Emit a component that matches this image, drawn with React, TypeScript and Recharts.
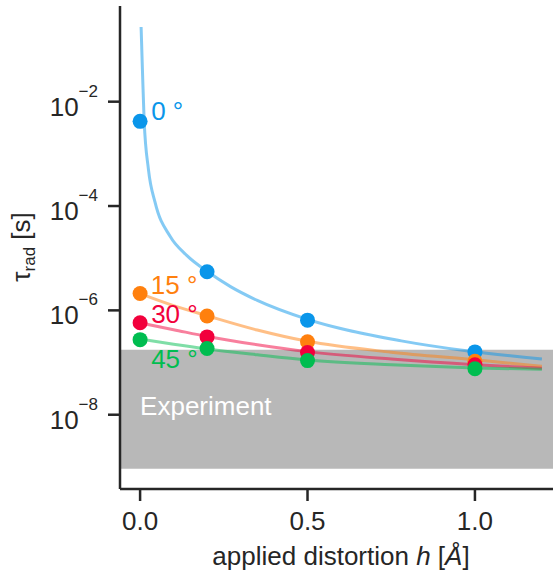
import React from "react";
import {
  ComposedChart,
  Line,
  Scatter,
  XAxis,
  YAxis,
  ReferenceArea,
  ReferenceDot,
} from "recharts";

// measured points
const H_PTS = [0, 0.2, 0.5, 1.0];
const TAU_0 = [4.2e-3, 5.5e-6, 6.5e-7, 1.6e-7];
const TAU_15 = [2.1e-6, 7.8e-7, 2.5e-7, 1.06e-7];
const TAU_30 = [5.8e-7, 3.1e-7, 1.55e-7, 9.1e-8];
const TAU_45 = [2.75e-7, 1.86e-7, 1.09e-7, 7.6e-8];

// fitted curves
const H_FIT_0 = [0.003, 0.007, 0.012, 0.025, 0.045, 0.09, 0.14, 0.2, 0.27, 0.35, 0.5, 0.78, 0.98, 1.2];
const FIT_0 = [0.27, 0.041, 4.5e-3, 5.0e-4, 1.16e-4, 2.6e-5, 1.12e-5, 5.6e-6, 2.85e-6, 1.55e-6, 6.7e-7, 2.6e-7, 1.66e-7, 1.17e-7];
const H_FIT = [0, 0.1, 0.2, 0.35, 0.5, 0.75, 1.0, 1.2];
const FIT_15 = [2.09e-6, 1.23e-6, 7.9e-7, 4.2e-7, 2.55e-7, 1.58e-7, 1.13e-7, 8.5e-8];
const FIT_30 = [5.75e-7, 4.27e-7, 3.16e-7, 2.19e-7, 1.62e-7, 1.17e-7, 9.1e-8, 7.8e-8];
const FIT_45 = [2.82e-7, 2.24e-7, 1.82e-7, 1.41e-7, 1.12e-7, 9.1e-8, 7.9e-8, 7.4e-8];

// experimental window
const EXP_RANGE = [9.2e-10, 1.75e-7];

const ANGLES = ["0", "15", "30", "45"];
const LABEL_H = [0.033, 0.032, 0.033, 0.033];
const LABEL_TAU = [4.5e-3, 2.06e-6, 5.7e-7, 7.85e-8];

const X_TICKS = [0, 0.5, 1.0];
const Y_TICKS = [1e-2, 1e-4, 1e-6, 1e-8];

const COLORS = ["#0a96ea", "#ff800e", "#f2003c", "#00bd50"];
const INK = "#262626";
const FONT = "'Liberation Sans', Arial, sans-serif";

const zip = (xs: number[], ys: number[]) => xs.map((h, i) => ({ h, tau: ys[i] }));
const fits = [zip(H_FIT_0, FIT_0), zip(H_FIT, FIT_15), zip(H_FIT, FIT_30), zip(H_FIT, FIT_45)];
const points = [TAU_0, TAU_15, TAU_30, TAU_45].map((t) => zip(H_PTS, t));

const YTick = (props: any) => {
  const { x, y, payload } = props;
  const exp = Math.round(Math.log10(payload.value));
  return (
    <text x={x} y={y + 14} textAnchor="end" fill={INK} fontSize={26} fontFamily={FONT}>
      <tspan>10</tspan>
      <tspan dy={-19} fontSize={17}>{"\u2212" + Math.abs(exp)}</tspan>
    </text>
  );
};

const YLabel = () => (
  <text transform="rotate(-90)" x={-247} y={30} textAnchor="middle" fill={INK} fontSize={26} fontFamily={FONT}>
    <tspan>τ</tspan>
    <tspan dy={5} fontSize={17}>rad</tspan>
    <tspan dy={-5}> [s]</tspan>
  </text>
);

const XLabel = () => (
  <text x={341} y={565} textAnchor="middle" fill={INK} fontSize={26} fontFamily={FONT}>
    <tspan>applied distortion </tspan>
    <tspan fontStyle="italic">h</tspan>
    <tspan> [</tspan>
    <tspan fontStyle="italic">Å</tspan>
    <tspan>]</tspan>
  </text>
);

export default function App() {
  return (
    <div style={{ position: "absolute", left: 0, top: 0, width: 553, height: 575, overflow: "hidden", background: "#fff" }}>
      <ComposedChart width={570} height={575} margin={{ top: 6, right: 8, bottom: 0, left: 0 }}>
        <XAxis
          dataKey="h"
          type="number"
          domain={[-0.06, 1.26]}
          allowDataOverflow
          ticks={X_TICKS}
          tickFormatter={(v: number) => v.toFixed(1)}
          tick={{ fill: INK, fontSize: 26, fontFamily: FONT }}
          tickSize={12}
          tickMargin={11}
          tickLine={{ stroke: INK, strokeWidth: 2.5 }}
          axisLine={{ stroke: INK, strokeWidth: 2.5 }}
          height={86}
          label={<XLabel />}
        />
        <XAxis
          xAxisId="top"
          orientation="top"
          type="number"
          domain={[-0.06, 1.26]}
          tick={false}
          tickLine={false}
          height={0}
          axisLine={{ stroke: INK, strokeWidth: 2.5 }}
        />
        <YAxis
          dataKey="tau"
          type="number"
          scale="log"
          domain={[3.77e-10, 0.682]}
          allowDataOverflow
          ticks={Y_TICKS}
          tick={<YTick />}
          tickSize={12}
          tickMargin={10}
          tickLine={{ stroke: INK, strokeWidth: 2.5 }}
          axisLine={{ stroke: INK, strokeWidth: 2.5 }}
          width={120}
          label={<YLabel />}
        />
        <ReferenceArea
          x1={-0.06}
          x2={1.26}
          y1={EXP_RANGE[0]}
          y2={EXP_RANGE[1]}
          fill="#b8b8b8"
          fillOpacity={1}
          stroke="none"
          ifOverflow="hidden"
        />
        <ReferenceDot
          x={0}
          y={1e-8}
          r={0}
          shape={(p: any) => (
            <text x={p.cx} y={p.cy} fill="#fff" fontSize={26} fontFamily={FONT}>
              Experiment
            </text>
          )}
        />
        {fits.map((d, i) => (
          <Line
            key={"fit" + i}
            data={d}
            dataKey="tau"
            type="monotone"
            stroke={COLORS[i]}
            strokeOpacity={0.5}
            strokeWidth={3}
            dot={false}
            activeDot={false}
            isAnimationActive={false}
          />
        ))}
        {points.map((d, i) => (
          <Scatter
            key={"pts" + i}
            data={d}
            dataKey="tau"
            fill={COLORS[i]}
            isAnimationActive={false}
            shape={(p: any) => <circle cx={p.cx} cy={p.cy} r={7.5} fill={COLORS[i]} />}
          />
        ))}
        {ANGLES.map((a, i) => (
          <ReferenceDot
            key={"lab" + i}
            x={LABEL_H[i]}
            y={LABEL_TAU[i]}
            r={0}
            shape={(p: any) => (
              <text x={p.cx} y={p.cy} fill={COLORS[i]} fontSize={26} fontFamily={FONT}>
                {a + " \u00b0"}
              </text>
            )}
          />
        ))}
      </ComposedChart>
    </div>
  );
}
